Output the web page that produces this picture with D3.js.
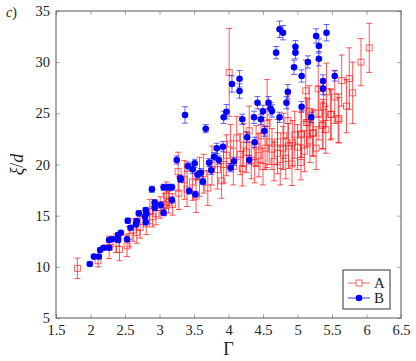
<!DOCTYPE html>
<html>
<head>
<meta charset="utf-8">
<script src="https://cdn.jsdelivr.net/npm/d3@7"></script>
<style>
    body { margin: 0; background: #fff; }
    svg text { font-family: "Liberation Serif", "DejaVu Serif", serif; fill: #222; }
</style>
</head>
<body>
<div id="chart"></div>
<script>
// ======= data: series A (red squares) =======
var aGamma = [1.81, 2.11, 2.27, 2.37, 2.42, 2.53, 2.56, 2.62, 2.67, 2.72, 2.81, 2.86, 2.90, 2.95, 3.01, 3.07, 3.10, 3.13, 3.19,
    3.27, 3.28, 3.36, 3.40, 3.48, 3.53, 3.58, 3.64, 3.70, 3.76, 3.84, 3.90, 3.93, 3.97, 4.01, 4.03,
    4.07, 4.12, 4.17, 4.20, 4.22, 4.26, 4.30, 4.33, 4.38, 4.40, 4.44, 4.47, 4.50, 4.53, 4.56, 4.59, 4.63, 4.66,
    4.71, 4.71, 4.75, 4.79, 4.80, 4.83, 4.86, 4.87, 4.92, 4.93, 4.96, 5.00, 5.05, 5.05, 5.06, 5.10, 5.12, 5.13,
    5.15, 5.17, 5.18, 5.22, 5.23, 5.27, 5.30, 5.31, 5.36, 5.37, 5.38, 5.41, 5.42, 5.48, 5.49, 5.54, 5.59, 5.60,
    5.64, 5.71, 5.75, 5.80, 5.92, 6.04];
var aXi = [9.85, 10.6, 11.9, 12.3, 11.7, 12.05, 12.95, 13.6, 13.35, 13.85, 14.2, 15.4, 14.9, 15.2, 15.8, 16.1, 17.0, 16.3, 16.1,
    19.3, 17.2, 18.5, 17.6, 18.3, 16.9, 18.8, 19.1, 17.7, 19.9, 19.5, 18.4, 20.0, 20.9, 29.0, 22.0,
    19.8, 22.6, 21.0, 19.6, 21.9, 21.2, 23.3, 20.4, 20.2, 21.8, 20.9, 22.8, 19.8, 21.6, 24.0, 22.2, 21.5, 20.3,
    21.1, 22.2, 19.9, 21.6, 22.8, 20.6, 24.3, 21.8, 20.05, 22.1, 22.9, 21.7, 20.2, 22.9, 23.0, 21.3, 27.2, 24.1,
    24.1, 25.2, 22.3, 23.05, 23.1, 21.6, 27.4, 25.0, 23.8, 23.96, 25.65, 23.4, 27.1, 24.9, 24.9, 26.6, 24.35, 24.5,
    28.2, 25.7, 28.4, 27.0, 30.0, 31.4];
var aErr = [1.0, 0.6, 1.1, 0.9, 1.1, 1.05, 1.0, 1.1, 1.05, 1.05, 1.05, 1.2, 1.0, 1.1, 1.05, 1.05, 1.3, 1.05, 1.05,
    1.9, 1.6, 1.9, 1.7, 1.8, 1.6, 1.9, 1.9, 1.7, 1.9, 1.9, 1.7, 1.8, 2.0, 4.3, 1.9,
    1.8, 2.1, 2.0, 1.7, 2.1, 2.0, 2.4, 1.8, 2.0, 2.0, 2.1, 2.6, 1.8, 2.1, 4.3, 2.2, 2.0, 1.9,
    2.0, 2.2, 1.9, 2.1, 2.2, 2.0, 2.5, 2.2, 2.1, 2.2, 2.3, 2.2, 1.7, 2.2, 2.3, 2.0, 3.0, 2.4,
    2.3, 2.5, 2.1, 2.2, 2.3, 2.1, 2.8, 2.6, 2.3, 2.4, 2.5, 2.3, 2.8, 2.5, 2.4, 2.6, 2.2, 2.4,
    2.5, 2.6, 3.0, 3.0, 2.3, 2.4];

// ======= data: series B (blue circles) =======
var bGamma = [1.99, 2.05, 2.12, 2.14, 2.19, 2.27, 2.27, 2.32, 2.40, 2.40, 2.44, 2.53, 2.54, 2.58, 2.67, 2.66, 2.70, 2.80, 2.81, 2.80, 2.79,
    2.89, 2.93, 2.93, 3.02, 3.06, 3.06, 3.13, 3.18, 3.18, 3.25,
    3.30, 3.31, 3.41, 3.43, 3.48, 3.51, 3.52, 3.55, 3.60, 3.63, 3.72, 3.75, 3.79, 3.83, 3.86, 3.92, 4.03, 4.08,
    4.27, 4.30, 4.38, 4.52, 3.37, 3.67, 3.93, 3.97, 4.05, 4.16, 4.16, 4.20, 4.37, 4.42, 4.47, 4.50, 4.58, 4.61, 4.63,
    4.69, 4.74, 4.84, 4.86, 4.74, 4.79, 5.27, 5.42, 5.31, 4.97, 4.97, 4.95, 5.31, 5.15, 5.06, 5.54, 5.37, 5.37, 5.06, 5.20];
var bXi = [10.28, 11.0, 11.0, 11.65, 11.87, 11.87, 12.62, 12.72, 12.62, 13.11, 13.33, 12.69, 14.5, 13.82, 14.48, 14.15, 15.23, 15.55, 15.23, 14.35, 14.9,
    17.58, 16.27, 15.78, 16.04, 15.29, 17.77, 17.77, 17.77, 16.53, 20.44,
    18.65, 18.55, 19.85, 17.41, 19.53, 20.11, 17.09, 19.0, 19.2, 18.32, 20.18, 19.43, 20.76, 21.58, 20.44, 21.74, 19.69, 20.31,
    22.66, 20.44, 22.17, 23.27, 24.84, 23.5, 24.61, 25.16, 27.87, 28.38, 27.18, 24.42, 24.61, 26.04, 24.42, 25.2, 26.04, 25.45, 25.23,
    30.93, 24.61, 26.04, 27.11, 33.21, 32.88, 32.56, 32.88, 31.58, 31.51, 30.93, 29.5, 30.34, 30.02, 28.65, 28.65, 28.16, 27.41, 25.65, 24.61];
var bErr = [0.2, 0.2, 0.2, 0.2, 0.2, 0.2, 0.2, 0.2, 0.2, 0.2, 0.2, 0.2, 0.25, 0.2, 0.25, 0.25, 0.25, 0.25, 0.25, 0.25, 0.25,
    0.3, 0.3, 0.3, 0.3, 0.3, 0.3, 0.3, 0.3, 0.3, 0.4,
    0.3, 0.3, 0.4, 0.3, 0.4, 0.4, 0.3, 0.4, 0.4, 0.3, 0.4, 0.4, 0.4, 0.5, 0.4, 0.5, 0.4, 0.4,
    0.5, 0.4, 0.5, 0.5, 0.8, 0.4, 0.6, 0.7, 0.8, 0.8, 0.7, 0.5, 0.6, 0.6, 0.5, 0.6, 0.6, 0.6, 0.6,
    0.6, 0.5, 0.6, 0.7, 0.8, 0.7, 0.7, 0.8, 0.7, 0.6, 0.6, 0.7, 0.7, 0.6, 0.6, 0.5, 0.6, 0.6, 0.5, 0.5];

var xTicks = [1.5, 2, 2.5, 3, 3.5, 4, 4.5, 5, 5.5, 6, 6.5];
var yTicks = [5, 10, 15, 20, 25, 30, 35];
var legendNames = ["A", "B"];

// ======= formatting =======
var width = 416;
var height = 361;
var plot = {left: 56, right: 401, top: 11, bottom: 318};
var redColor = "#ff1010";
var blueColor = "#0000ff";
var serif = "'Liberation Serif', 'DejaVu Serif', serif";

// ======= scales =======
var xScale = d3.scaleLinear().domain([1.5, 6.5]).range([plot.left, plot.right]);
var yScale = d3.scaleLinear().domain([5, 35]).range([plot.bottom, plot.top]);

// ======= elements =======
var svg = d3.select("#chart").append("svg")
    .attr("width", width)
    .attr("height", height);

// ======= ticks (inside, all four sides) =======
var tickLen = 4;
var axes = svg.append("g").attr("class", "axes");
function drawTicks(axis, tr) {
    axes.append("g")
        .attr("transform", tr)
        .call(axis.tickSize(tickLen).tickSizeOuter(0).tickFormat(""))
        .call(function(g) {
            g.select(".domain").remove();
            g.selectAll(".tick line").attr("stroke", "#aaa");
        });
}
drawTicks(d3.axisTop(xScale).tickValues(xTicks), "translate(0," + plot.bottom + ")");
drawTicks(d3.axisBottom(xScale).tickValues(xTicks), "translate(0," + plot.top + ")");
drawTicks(d3.axisRight(yScale).tickValues(yTicks), "translate(" + plot.left + ",0)");
drawTicks(d3.axisLeft(yScale).tickValues(yTicks), "translate(" + plot.right + ",0)");

// == tick labels
axes.append("g")
    .attr("transform", "translate(0," + plot.bottom + ")")
    .call(d3.axisBottom(xScale).tickValues(xTicks).tickSize(0).tickPadding(7).tickFormat(d3.format("")))
    .call(function(g) {
        g.attr("font-family", serif);
        g.select(".domain").remove();
        g.selectAll("text").style("font-family", serif).style("font-size", "14.5px").attr("fill", "#222");
    });
axes.append("g")
    .attr("transform", "translate(" + plot.left + ",0)")
    .call(d3.axisLeft(yScale).tickValues(yTicks).tickSize(0).tickPadding(6).tickFormat(d3.format("")))
    .call(function(g) {
        g.attr("font-family", serif);
        g.select(".domain").remove();
        g.selectAll("text").style("font-family", serif).style("font-size", "14.5px").attr("fill", "#222");
    });

// ======= series A =======
var aData = aGamma.map(function(g, i) { return {x: g, y: aXi[i], e: aErr[i]}; });
var bData = bGamma.map(function(g, i) { return {x: g, y: bXi[i], e: bErr[i]}; });

function drawErrors(data, color, opacity, cap) {
    var grp = svg.append("g")
        .attr("stroke", color)
        .attr("stroke-opacity", opacity)
        .attr("stroke-width", 1)
        .attr("fill", "none");
    grp.selectAll("path")
        .data(data)
        .enter()
        .append("path")
        .attr("d", function(d) {
            var x = xScale(d.x), y0 = yScale(d.y - d.e), y1 = yScale(d.y + d.e);
            return "M" + x + "," + y0 + "V" + y1 +
                "M" + (x - cap) + "," + y0 + "H" + (x + cap) +
                "M" + (x - cap) + "," + y1 + "H" + (x + cap);
        });
}

drawErrors(aData, redColor, 0.7, 3);
svg.append("g")
    .selectAll("rect")
    .data(aData)
    .enter()
    .append("rect")
    .attr("x", function(d) { return xScale(d.x) - 3; })
    .attr("y", function(d) { return yScale(d.y) - 3; })
    .attr("width", 6)
    .attr("height", 6)
    .attr("fill", "none")
    .attr("stroke", redColor)
    .attr("stroke-opacity", 0.65);

// ======= series B =======
drawErrors(bData, blueColor, 0.6, 3);
svg.append("g")
    .selectAll("circle")
    .data(bData)
    .enter()
    .append("circle")
    .attr("cx", function(d) { return xScale(d.x); })
    .attr("cy", function(d) { return yScale(d.y); })
    .attr("r", 3.3)
    .attr("fill", blueColor);

// ======= frame =======
svg.append("rect")
    .attr("x", plot.left)
    .attr("y", plot.top)
    .attr("width", plot.right - plot.left)
    .attr("height", plot.bottom - plot.top)
    .attr("fill", "none")
    .attr("stroke", "#555")
    .attr("stroke-width", 1);

// ======= labels =======
svg.append("text")
    .attr("x", 6).attr("y", 17)
    .style("font-size", "14px")
    .html("<tspan font-style='italic'>c</tspan>)");

svg.append("text")
    .attr("transform", "translate(23," + ((plot.top + plot.bottom) / 2) + ") rotate(-90)")
    .attr("text-anchor", "middle")
    .style("font-size", "18px")
    .html("<tspan font-style='italic'>ξ</tspan>/<tspan font-style='italic'>d</tspan>");

svg.append("text")
    .attr("x", (plot.left + plot.right) / 2).attr("y", 355)
    .attr("text-anchor", "middle")
    .style("font-size", "18px")
    .text("Γ");

// ======= legend =======
var legend = svg.append("g").attr("class", "legend");
legend.append("rect")
    .attr("x", 343).attr("y", 270)
    .attr("width", 47).attr("height", 39)
    .attr("fill", "#fff")
    .attr("stroke", "#333");
legendNames.forEach(function(name, i) {
    var ly = 283 + i * 15;
    var col = i === 0 ? redColor : blueColor;
    legend.append("line")
        .attr("x1", 348).attr("x2", 370)
        .attr("y1", ly).attr("y2", ly)
        .attr("stroke", col)
        .attr("stroke-opacity", i === 0 ? 0.65 : 0.8);
    if (i === 0) {
        legend.append("rect")
            .attr("x", 356).attr("y", ly - 3)
            .attr("width", 6).attr("height", 6)
            .attr("fill", "#fff")
            .attr("stroke", col).attr("stroke-opacity", 0.65);
    } else {
        legend.append("circle")
            .attr("cx", 359).attr("cy", ly).attr("r", 3.3)
            .attr("fill", col);
    }
    legend.append("text")
        .attr("x", 374).attr("y", ly + 5)
        .style("font-size", "15px")
        .text(name);
});
</script>
</body>
</html>
